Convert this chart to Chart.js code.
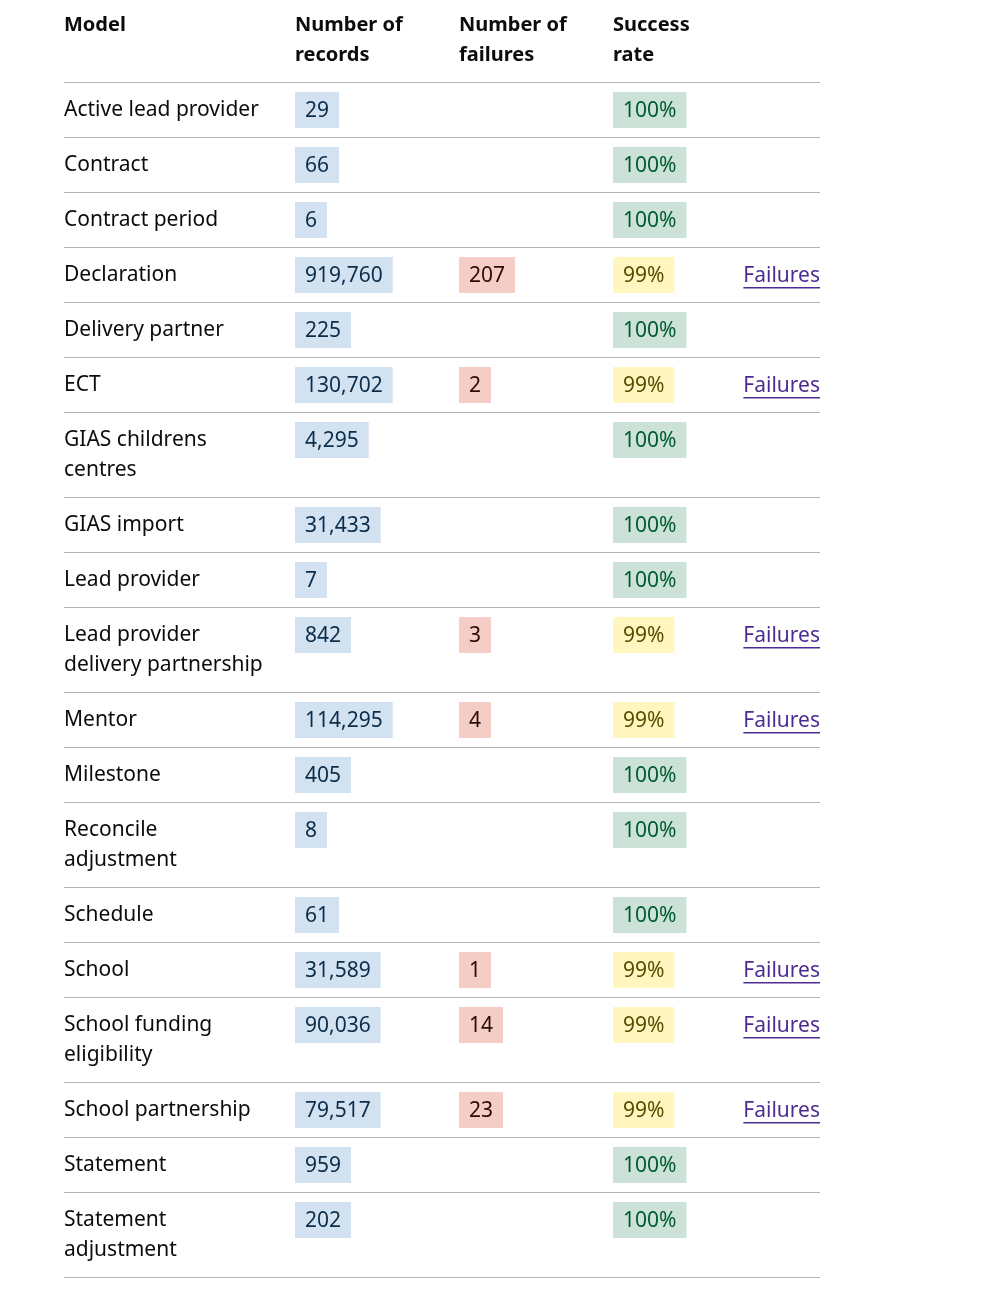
<!DOCTYPE html>
<html><head><meta charset="utf-8">
<script src="https://cdn.jsdelivr.net/npm/chart.js@4"></script>
<style>body{margin:0;background:#fff}canvas{display:block}</style>
</head><body>
<canvas id="c" width="994" height="1289"></canvas>
<script>
const headers = [["Model"], ["Number of","records"], ["Number of","failures"], ["Success","rate"]];
const models = [["Active lead provider"],["Contract"],["Contract period"],["Declaration"],["Delivery partner"],["ECT"],["GIAS childrens","centres"],["GIAS import"],["Lead provider"],["Lead provider","delivery partnership"],["Mentor"],["Milestone"],["Reconcile","adjustment"],["Schedule"],["School"],["School funding","eligibility"],["School partnership"],["Statement"],["Statement","adjustment"]];
const records = ["29","66","6","919,760","225","130,702","4,295","31,433","7","842","114,295","405","8","61","31,589","90,036","79,517","959","202"];
const failures = [null,null,null,"207",null,"2",null,null,null,"3","4",null,null,null,"1","14","23",null,null];
const rates = ["100%","100%","100%","99%","100%","99%","100%","100%","100%","99%","99%","100%","100%","100%","99%","99%","99%","100%","100%"];
const linkText = "Failures";

const FONT = '"Noto Sans", sans-serif';
const tablePlugin = {
  id: 'table',
  afterDraw(chart) {
    const ctx = chart.ctx, X = chart.scales.x, Y = chart.scales.y;
    const px = v => X.getPixelForValue(v), py = v => Y.getPixelForValue(v);
    const cols = [64, 295, 459, 613, 743], right = 820;
    ctx.save();
    ctx.textBaseline = 'middle';
    ctx.font = 'bold 20px ' + FONT;
    ctx.fillStyle = '#0b0c0c';
    headers.forEach((h, i) => h.forEach((t, j) => ctx.fillText(t, px(cols[i]), py(25 + 30 * j))));
    const line = y => { ctx.strokeStyle = '#b1b4b6'; ctx.lineWidth = 1; ctx.beginPath(); ctx.moveTo(px(64), py(y) + 0.5); ctx.lineTo(px(right), py(y) + 0.5); ctx.stroke(); };
    let top = 82; line(top);
    ctx.font = '21px ' + FONT;
    const tag = (t, x, y, bg, fg) => {
      const w = ctx.measureText(t).width;
      ctx.fillStyle = bg; ctx.fillRect(px(x), py(y - 18), w + 20, py(y + 18) - py(y - 18));
      ctx.fillStyle = fg; ctx.fillText(t, px(x + 10), py(y + 1));
    };
    models.forEach((m, i) => {
      const h = 25 + 30 * m.length, c = top + 28;
      ctx.fillStyle = '#0b0c0c';
      m.forEach((t, j) => ctx.fillText(t, px(64), py(c + 30 * j)));
      tag(records[i], cols[1], c, '#d2e2f1', '#0c2d4a');
      if (failures[i] !== null) tag(failures[i], cols[2], c, '#f4cdc6', '#2a0b06');
      const ok = rates[i] === '100%';
      tag(rates[i], cols[3], c, ok ? '#cce2d8' : '#fff7bf', ok ? '#005a30' : '#594d00');
      if (failures[i] !== null) {
        const w = ctx.measureText(linkText).width;
        ctx.fillStyle = '#4c2c92';
        ctx.fillText(linkText, px(right) - w, py(c + 1));
        ctx.fillRect(px(right) - w, py(c + 12), w, 1.5);
      }
      top += h; line(top);
    });
    ctx.restore();
  }
};
new Chart(document.getElementById('c'), {
  type: 'scatter',
  data: { datasets: [{ data: [] }] },
  options: {
    responsive: false, animation: false, devicePixelRatio: 1,
    layout: { padding: 0 },
    plugins: { legend: { display: false }, tooltip: { enabled: false } },
    scales: {
      x: { type: 'linear', min: 0, max: 994, display: false },
      y: { type: 'linear', min: 0, max: 1289, reverse: true, display: false }
    }
  },
  plugins: [tablePlugin]
});
</script></body></html>
